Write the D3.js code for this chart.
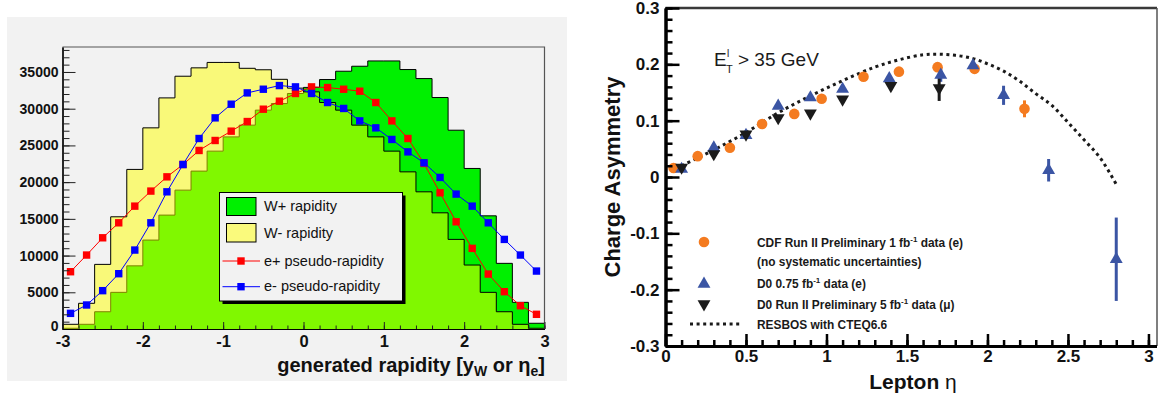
<!DOCTYPE html>
<html>
<head>
<meta charset="utf-8">
<script src="https://cdn.jsdelivr.net/npm/d3@7"></script>
<style>
  body { margin: 0; background: #fff; }
  svg { display: block; font-family: "Liberation Sans", Arial, sans-serif; }
</style>
</head>
<body>
<script>
// ---------- left panel: W / lepton rapidity histograms ----------
const etaLow = [-3.0, -2.8, -2.6, -2.4, -2.2, -2.0, -1.8, -1.6, -1.4, -1.2, -1.0, -0.8, -0.6, -0.4, -0.2,
                0.0, 0.2, 0.4, 0.6, 0.8, 1.0, 1.2, 1.4, 1.6, 1.8, 2.0, 2.2, 2.4, 2.6, 2.8];
const etaMid = [-2.9, -2.7, -2.5, -2.3, -2.1, -1.9, -1.7, -1.5, -1.3, -1.1, -0.9, -0.7, -0.5, -0.3, -0.1,
                0.1, 0.3, 0.5, 0.7, 0.9, 1.1, 1.3, 1.5, 1.7, 1.9, 2.1, 2.3, 2.5, 2.7, 2.9];
const binWidth = 0.2;
const wPlus = [100, 640, 2350, 4990, 8600, 12110, 15510, 18910, 21500, 24220, 26160, 27760, 29800, 30700, 32070,
               32900, 33970, 35100, 35780, 36500, 36500, 35330, 34100, 31520, 27070, 21860, 15410, 8940, 3630, 780];
const wMinus = [640, 3500, 8800, 15280, 21730, 27390, 31470, 34420, 35560, 36300, 36300, 35500, 35300, 34000, 32800,
                32290, 30840, 29800, 27760, 26160, 24220, 21400, 18680, 15820, 12200, 8710, 4990, 2350, 640, 100];
const ePlus = [7800, 10070, 12420, 14460, 16730, 18780, 20720, 22400, 24310, 25670, 26940, 28250, 29930, 31020, 32070,
               32970, 32880, 32650, 32380, 30840, 28340, 25940, 22540, 18550, 14600, 10980, 7480, 5080, 3170, 2000];
const eMinus = [2130, 3270, 5220, 7530, 10750, 14460, 18680, 22400, 25940, 28750, 30610, 32150, 32650, 33150, 32970,
                32070, 30840, 30030, 28340, 27390, 25810, 24120, 22630, 20640, 18370, 16730, 14460, 12200, 10070, 7890];
const leftYTicks = [0, 5000, 10000, 15000, 20000, 25000, 30000, 35000];
const leftXTicks = [-3, -2, -1, 0, 1, 2, 3];
const leftLegend = ["W+ rapidity", "W- rapidity", "e+ pseudo-rapidity", "e- pseudo-rapidity"];

// ---------- right panel: charge asymmetry ----------
const cdfEta = [0.05, 0.2, 0.4, 0.6, 0.8, 0.97, 1.23, 1.45, 1.69, 1.92, 2.23];
const cdfAsym = [0.016, 0.037, 0.052, 0.094, 0.112, 0.139, 0.178, 0.187, 0.195, 0.192, 0.121];
const cdfErr = [0, 0, 0, 0, 0, 0, 0, 0, 0, 0, 0.015];
const d0eEta = [0.1, 0.3, 0.5, 0.7, 0.9, 1.1, 1.39, 1.71, 1.91, 2.1, 2.38, 2.8];
const d0eAsym = [0.014, 0.052, 0.074, 0.126, 0.141, 0.156, 0.175, 0.181, 0.198, 0.145, 0.012, -0.146];
const d0eErr = [0, 0, 0, 0, 0, 0, 0, 0.012, 0, 0.017, 0.02, 0.074];
const d0muEta = [0.1, 0.3, 0.5, 0.7, 0.9, 1.1, 1.4, 1.7];
const d0muAsym = [0.017, 0.041, 0.076, 0.105, 0.113, 0.138, 0.162, 0.158];
const d0muErr = [0, 0, 0, 0, 0, 0, 0, 0.023];
const resbosEta = [0.1, 0.3, 0.5, 0.7, 0.9, 1.1, 1.3, 1.45, 1.6, 1.7, 1.8, 1.9, 2.0, 2.1, 2.2, 2.3, 2.4, 2.5, 2.6, 2.7, 2.8];
const resbosAsym = [0.02, 0.048, 0.079, 0.114, 0.144, 0.171, 0.195, 0.208, 0.217, 0.218, 0.216, 0.211, 0.201, 0.188,
                    0.17, 0.148, 0.127, 0.097, 0.066, 0.034, -0.013];
const rightYTicks = [-0.3, -0.2, -0.1, 0, 0.1, 0.2, 0.3];
const rightXTicks = [0, 0.5, 1, 1.5, 2, 2.5, 3];

const svg = d3.select("body").append("svg").attr("width", 1161).attr("height", 394);

// W- fill: half-transparent yellow, pale over the grey and lime over the green
const wmFill = "#ffff00", wmOpacity = 0.5;

// ================= LEFT =================
const L = svg.append("g");
L.append("rect").attr("x", 7).attr("y", 17).attr("width", 560).attr("height", 364).attr("fill", "#f2f2f2");

const xL = d3.scaleLinear().domain([-3, 3]).range([62.5, 544.5]);
const yL = d3.scaleLinear().domain([0, 38400]).range([329, 47]);

const stepPts = vals => {
  const pts = [[etaLow[0], 0]];
  etaLow.forEach((e, i) => { pts.push([e, vals[i]]); pts.push([e + binWidth, vals[i]]); });
  pts.push([etaLow[etaLow.length - 1] + binWidth, 0]);
  return pts;
};
const histArea = d3.area().x(d => xL(d[0])).y0(yL(0)).y1(d => yL(d[1]));
const histLine = d3.line().x(d => xL(d[0])).y(d => yL(d[1]));

L.append("path").attr("d", histArea(stepPts(wPlus))).attr("fill", "#00f000");
L.append("path").attr("d", histLine(stepPts(wPlus))).attr("fill", "none").attr("stroke", "#000").attr("stroke-width", 1);
L.append("path").attr("d", histArea(stepPts(wMinus))).attr("fill", wmFill).attr("fill-opacity", wmOpacity);
L.append("path").attr("d", histLine(stepPts(wMinus))).attr("fill", "none").attr("stroke", "#000").attr("stroke-width", 1);

const ptLine = d3.line().x(d => xL(d[0])).y(d => yL(d[1]));
[[ePlus, "#ff0000"], [eMinus, "#0000ff"]].forEach(([vals, col]) => {
  const pts = etaMid.map((e, i) => [e, vals[i]]);
  L.append("path").attr("d", ptLine(pts)).attr("fill", "none").attr("stroke", col).attr("stroke-width", 1);
  L.append("g").selectAll("rect").data(pts).enter().append("rect")
    .attr("x", d => xL(d[0]) - 3.7).attr("y", d => yL(d[1]) - 3.7)
    .attr("width", 7.4).attr("height", 7.4).attr("fill", col);
});

// legend
const lg = L.append("g");
lg.append("rect").attr("x", 222.5).attr("y", 195.5).attr("width", 183).attr("height", 108.5).attr("fill", "#000");
lg.append("rect").attr("x", 219.5).attr("y", 192.5).attr("width", 183).attr("height", 108.5)
  .attr("fill", "#f2f2f2").attr("stroke", "#000").attr("stroke-width", 1);
lg.append("rect").attr("x", 226.5).attr("y", 197.5).attr("width", 29.5).attr("height", 18).attr("fill", "#00f000").attr("stroke", "#000");
lg.append("rect").attr("x", 226.5).attr("y", 223.5).attr("width", 29.5).attr("height", 18.5).attr("fill", "#fafa7c").attr("stroke", "#000");
[[261, "#ff0000"], [286.7, "#0000ff"]].forEach(([yy, col]) => {
  lg.append("line").attr("x1", 222.5).attr("x2", 260).attr("y1", yy).attr("y2", yy).attr("stroke", col);
  lg.append("rect").attr("x", 241 - 3.7).attr("y", yy - 3.7).attr("width", 7.4).attr("height", 7.4).attr("fill", col);
});
lg.selectAll("text").data(leftLegend).enter().append("text")
  .attr("x", 264).attr("y", (d, i) => [211, 237.5, 265.5, 291][i])
  .attr("font-size", 14.5).attr("fill", "#111").text(d => d);

// frame border
L.append("path").attr("d", `M${xL(-3)},${yL(38400)}H${xL(3)}V${yL(0)}`).attr("fill", "none").attr("stroke", "#555").attr("stroke-width", 1.2);

// axes
const yAxisL = L.append("g").attr("transform", `translate(${xL(-3)},0)`)
  .call(d3.axisLeft(yL).tickValues(leftYTicks).tickSize(-13).tickSizeOuter(0).tickPadding(4).tickFormat(d => String(d)));
const yMinorL = L.append("g").attr("transform", `translate(${xL(-3)},0)`)
  .call(d3.axisLeft(yL).tickValues(d3.range(0, 38001, 1000)).tickSize(-7).tickSizeOuter(0).tickFormat(""));
const xAxisL = L.append("g").attr("transform", `translate(0,${yL(0)})`)
  .call(d3.axisBottom(xL).tickValues(leftXTicks).tickSize(-7).tickSizeOuter(0).tickPadding(6).tickFormat(d => String(d)));
const xMinorL = L.append("g").attr("transform", `translate(0,${yL(0)})`)
  .call(d3.axisBottom(xL).tickValues(d3.range(-3, 3.001, 0.2)).tickSize(-3.5).tickSizeOuter(0).tickFormat(""));
[yAxisL, yMinorL, xAxisL, xMinorL].forEach(g => {
  g.selectAll("path.domain").attr("stroke", "#000").attr("stroke-width", 1.2);
  g.selectAll(".tick line").attr("stroke", "#222");
  g.selectAll("text").attr("font-weight", "bold").attr("fill", "#111").attr("font-family", "Liberation Sans, Arial, sans-serif");
});
yAxisL.selectAll("text").attr("font-size", 14).attr("dy", (d) => d === 0 ? "0.1em" : "0.32em");
xAxisL.selectAll("text").attr("font-size", 16.5);

const xt = L.append("text").attr("x", 545).attr("y", 372).attr("text-anchor", "end")
  .attr("font-size", 20).attr("font-weight", "bold").attr("fill", "#111");
xt.append("tspan").text("generated rapidity [y");
xt.append("tspan").attr("font-size", 14).attr("dy", 4).text("W");
xt.append("tspan").attr("dy", -4).text(" or η");
xt.append("tspan").attr("font-size", 14).attr("dy", 4).text("e");
xt.append("tspan").attr("dy", -4).text("]");

// ================= RIGHT =================
const R = svg.append("g");
const xR = d3.scaleLinear().domain([0, 3.05]).range([665.5, 1156.5]);
const yR = d3.scaleLinear().domain([-0.3, 0.3]).range([346, 8]);

// theory curve
R.append("path")
  .attr("d", d3.line().curve(d3.curveCatmullRom).x((d, i) => xR(d)).y((d, i) => yR(resbosAsym[i]))(resbosEta))
  .attr("fill", "none").attr("stroke", "#1a1a1a").attr("stroke-width", 3).attr("stroke-dasharray", "3,3.6");

const cOrange = "#f47b20", cBlue = "#3b55a4", cBlack = "#1b1b1b";
const triUp = d3.symbol().type(d3.symbolTriangle).size(72);

function errBars(etas, vals, errs, col) {
  R.append("g").selectAll("line").data(d3.range(etas.length).filter(i => errs[i] > 0))
    .enter().append("line")
    .attr("x1", i => xR(etas[i])).attr("x2", i => xR(etas[i]))
    .attr("y1", i => yR(vals[i] - errs[i])).attr("y2", i => yR(vals[i] + errs[i]))
    .attr("stroke", col).attr("stroke-width", 3);
}
errBars(cdfEta, cdfAsym, cdfErr, cOrange);
errBars(d0eEta, d0eAsym, d0eErr, cBlue);
errBars(d0muEta, d0muAsym, d0muErr, cBlack);

R.append("g").selectAll("circle").data(cdfEta).enter().append("circle")
  .attr("cx", d => xR(d)).attr("cy", (d, i) => yR(cdfAsym[i])).attr("r", 5.3).attr("fill", cOrange);
R.append("g").selectAll("path").data(d0eEta).enter().append("path")
  .attr("d", triUp).attr("transform", (d, i) => `translate(${xR(d)},${yR(d0eAsym[i])})`).attr("fill", cBlue);
R.append("g").selectAll("path").data(d0muEta).enter().append("path")
  .attr("d", triUp).attr("transform", (d, i) => `translate(${xR(d)},${yR(d0muAsym[i])}) rotate(180)`).attr("fill", cBlack);

// frame
R.append("line").attr("x1", xR(0)).attr("x2", 1157).attr("y1", 8).attr("y2", 8).attr("stroke", "#3a3a3a").attr("stroke-width", 2.5);
R.append("line").attr("x1", 1157).attr("x2", 1157).attr("y1", 8).attr("y2", 346).attr("stroke", "#555").attr("stroke-width", 1.5);

const yAxisR = R.append("g").attr("transform", `translate(${xR(0)},0)`)
  .call(d3.axisLeft(yR).tickValues(rightYTicks).tickSize(-14).tickSizeOuter(0).tickPadding(6).tickFormat(d => String(d)));
const yMinorR = R.append("g").attr("transform", `translate(${xR(0)},0)`)
  .call(d3.axisLeft(yR).tickValues(d3.range(-0.3, 0.3001, 0.02)).tickSize(-7).tickSizeOuter(0).tickFormat(""));
const xAxisR = R.append("g").attr("transform", `translate(0,${yR(-0.3)})`)
  .call(d3.axisBottom(xR).tickValues(rightXTicks).tickSize(-12).tickSizeOuter(0).tickPadding(4).tickFormat(d => String(d)));
const xMinorR = R.append("g").attr("transform", `translate(0,${yR(-0.3)})`)
  .call(d3.axisBottom(xR).tickValues(d3.range(0, 3.001, 0.1)).tickSize(-6).tickSizeOuter(0).tickFormat(""));
[yAxisR, yMinorR, xAxisR, xMinorR].forEach(g => {
  g.selectAll("path.domain").attr("stroke", "#000").attr("stroke-width", 3);
  g.selectAll(".tick line").attr("stroke", "#000").attr("stroke-width", 2.5);
  g.selectAll("text").attr("font-weight", "bold").attr("font-size", 17).attr("fill", "#111")
    .attr("font-family", "Liberation Sans, Arial, sans-serif");
});

R.append("text").attr("transform", "translate(620,177) rotate(-90)").attr("text-anchor", "middle")
  .attr("font-size", 22).attr("font-weight", "bold").attr("fill", "#111").text("Charge Asymmetry");
const lx = R.append("text").attr("x", 913).attr("y", 389).attr("text-anchor", "middle")
  .attr("font-size", 21).attr("font-weight", "bold").attr("fill", "#111");
lx.append("tspan").text("Lepton ");
lx.append("tspan").attr("font-weight", "normal").text("η");

// cut label
const cut = R.append("g").attr("fill", "#1a1a1a").attr("font-size", 19);
cut.append("text").attr("x", 714).attr("y", 66).text("E");
cut.append("text").attr("x", 727).attr("y", 57).attr("font-size", 10).text("l");
cut.append("text").attr("x", 726).attr("y", 73).attr("font-size", 11).text("T");
cut.append("text").attr("x", 738).attr("y", 66).text("> 35 GeV");

// legend
const rl = R.append("g");
rl.append("circle").attr("cx", 704).attr("cy", 242).attr("r", 5.3).attr("fill", cOrange);
rl.append("path").attr("d", triUp).attr("transform", "translate(704,284)").attr("fill", cBlue);
rl.append("path").attr("d", triUp).attr("transform", "translate(704,304) rotate(180)").attr("fill", cBlack);
rl.append("line").attr("x1", 690).attr("x2", 742).attr("y1", 324).attr("y2", 324)
  .attr("stroke", "#1a1a1a").attr("stroke-width", 3).attr("stroke-dasharray", "3,3.6");
const legRows = [
  [247, ["CDF Run II Preliminary 1 fb", "-1", " data (e)"]],
  [266, ["(no systematic uncertainties)"]],
  [288, ["D0 0.75 fb", "-1", " data (e)"]],
  [309, ["D0 Run II Preliminary 5 fb", "-1", " data (μ)"]],
  [329, ["RESBOS with CTEQ6.6"]]
];
legRows.forEach(([yy, parts]) => {
  const t = rl.append("text").attr("x", 757).attr("y", yy).attr("font-size", 11.9).attr("font-weight", "bold").attr("fill", "#1a1a1a");
  parts.forEach((p, i) => {
    if (i === 1) t.append("tspan").attr("font-size", 8).attr("dy", -5).text(p);
    else if (i === 2) t.append("tspan").attr("dy", 5).text(p);
    else t.append("tspan").text(p);
  });
});
</script>
</body>
</html>
